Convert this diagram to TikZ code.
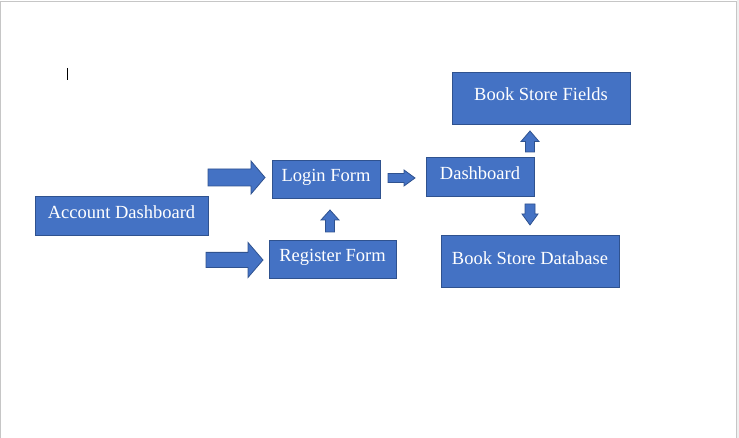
\documentclass[tikz,border=0pt]{standalone}
\usepackage{fontspec}
\setmainfont{Liberation Serif}
\definecolor{boxfill}{HTML}{4472C4}
\definecolor{boxline}{HTML}{2F528F}
\tikzset{
  box/.style={draw=boxline, fill=boxfill, line width=0.8pt, text=white,
    font=\fontsize{18.5}{22}\selectfont, inner sep=0pt,
    text height=13pt, text depth=7pt, anchor=center},
  blockarrow/.style={draw=boxline, fill=boxfill, line width=0.8pt, line join=miter}
}
% #1 rotation, #2 x, #3 y (tail centre), #4 length, #5 shaft half-width, #6 head half-width, #7 head length
\newcommand{\barrowdraw}[7]{%
  \draw[blockarrow, shift={(#2,#3)}, rotate=#1]
    (0,-#5) -- (#4-#7,-#5) -- (#4-#7,-#6) -- (#4,0) -- (#4-#7,#6) -- (#4-#7,#5) -- (0,#5) -- cycle;}
\begin{document}
\begin{tikzpicture}[x=1pt,y=-1pt]
\useasboundingbox (0,0) rectangle (739,438);
% page frame
\fill[gray!12] (737,0) rectangle (739,438);
\draw[gray!45, line width=1pt] (0.5,438) -- (0.5,1.5) -- (736.5,1.5) -- (736.5,438);
% text cursor
\draw[black, line width=1pt] (67,68) -- (67,80);
% boxes
\node[box, minimum width=173pt, minimum height=38.5pt] (acct) at (121.5,216) {Account Dashboard};
\node[box, minimum width=108pt, minimum height=38pt] (login) at (326,179) {Login Form};
\node[box, minimum width=127pt, minimum height=38pt] (reg) at (332.5,259) {Register Form};
\node[box, minimum width=108pt, minimum height=39pt] (dash) at (480,177) {Dashboard};
\node[box, minimum width=178pt, minimum height=52pt] (fields) at (541,98) {Book Store Fields};
\node[box, minimum width=178pt, minimum height=52pt] (db) at (530,261.5) {Book Store Database};
% block arrows
\barrowdraw{0}{208}{177.5}{57}{8.5}{16.5}{14}
\barrowdraw{0}{206}{260}{57}{7.6}{17.5}{15}
\barrowdraw{90}{330}{232}{22}{4.5}{9}{10}
\barrowdraw{0}{388}{178}{27}{4.5}{8}{11}
\barrowdraw{90}{530}{152}{21}{4.5}{9}{10.5}
\barrowdraw{-90}{530}{204}{21}{5}{8}{11}
\end{tikzpicture}
\end{document}
